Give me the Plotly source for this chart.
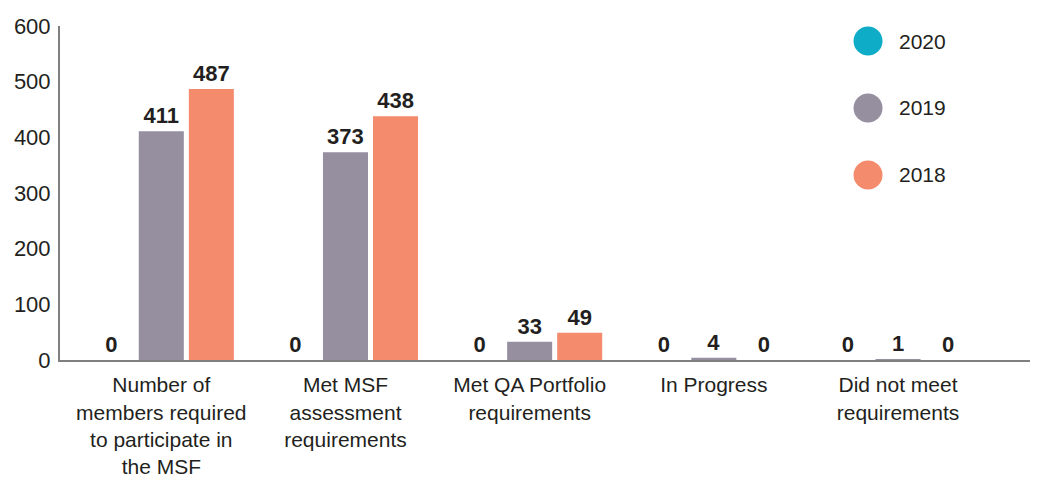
import plotly.graph_objects as go

categories = [
    "Number of<br>members required<br>to participate in<br>the MSF",
    "Met MSF<br>assessment<br>requirements",
    "Met QA Portfolio<br>requirements",
    "In Progress",
    "Did not meet<br>requirements",
]
series_names = ["2020", "2019", "2018"]
values_2020 = [0, 0, 0, 0, 0]
values_2019 = [411, 373, 33, 4, 1]
values_2018 = [487, 438, 49, 0, 0]
y_ticks = [0, 100, 200, 300, 400, 500, 600]

colors = {"2020": "#0FACC8", "2019": "#958FA0", "2018": "#F38B6C"}
series_values = {"2020": values_2020, "2019": values_2019, "2018": values_2018}
text_color = "#231F20"
FONT = "Liberation Sans, Arial, sans-serif"

fig = go.Figure()
for name in series_names:
    vals = series_values[name]
    fig.add_trace(go.Bar(
        x=list(range(len(categories))),
        y=vals,
        name=name,
        marker=dict(color=colors[name], line=dict(width=0)),
        text=[str(v) for v in vals],
        textposition="outside",
        textfont=dict(family=FONT, size=22, color=text_color, weight="bold"),
        cliponaxis=False,
        showlegend=False,
    ))

# custom legend: large circles with labels
legend_y = [0.955, 0.7545, 0.554]
shapes = []
annotations = []
for name, ly in zip(series_names, legend_y):
    shapes.append(dict(
        type="circle", xref="paper", yref="paper",
        xsizemode="pixel", ysizemode="pixel",
        xanchor=0.8262, yanchor=ly,
        x0=-14.5, x1=14.5, y0=-14.5, y1=14.5,
        fillcolor=colors[name], line=dict(width=0),
    ))
    annotations.append(dict(
        x=0.8558, y=ly, xref="paper", yref="paper",
        text=name, showarrow=False, xanchor="left", yanchor="middle",
        font=dict(family=FONT, size=21, color=text_color),
    ))

fig.update_layout(
    width=1030, height=473,
    margin=dict(l=52, r=0, t=18, b=121),
    paper_bgcolor="white", plot_bgcolor="white",
    barmode="group", bargap=0.185, bargroupgap=0.1,
    shapes=shapes, annotations=annotations,
    font=dict(family=FONT, color=text_color),
)
fig.update_xaxes(
    tickmode="array", tickvals=list(range(len(categories))), ticktext=categories,
    range=[-0.55, 4.76], showgrid=False, zeroline=False, automargin=False,
    showline=True, linecolor="#7F7F7F", linewidth=2,
    ticks="", ticklabelstandoff=5,
    tickfont=dict(family=FONT, size=21, color=text_color),
)
fig.update_yaxes(
    range=[0, 600], tickvals=y_ticks, showgrid=False, zeroline=False, automargin=False,
    showline=True, linecolor="#7F7F7F", linewidth=2,
    ticks="", ticklabelstandoff=3,
    tickfont=dict(family=FONT, size=22, color=text_color),
)

fig.write_html("out.html")
